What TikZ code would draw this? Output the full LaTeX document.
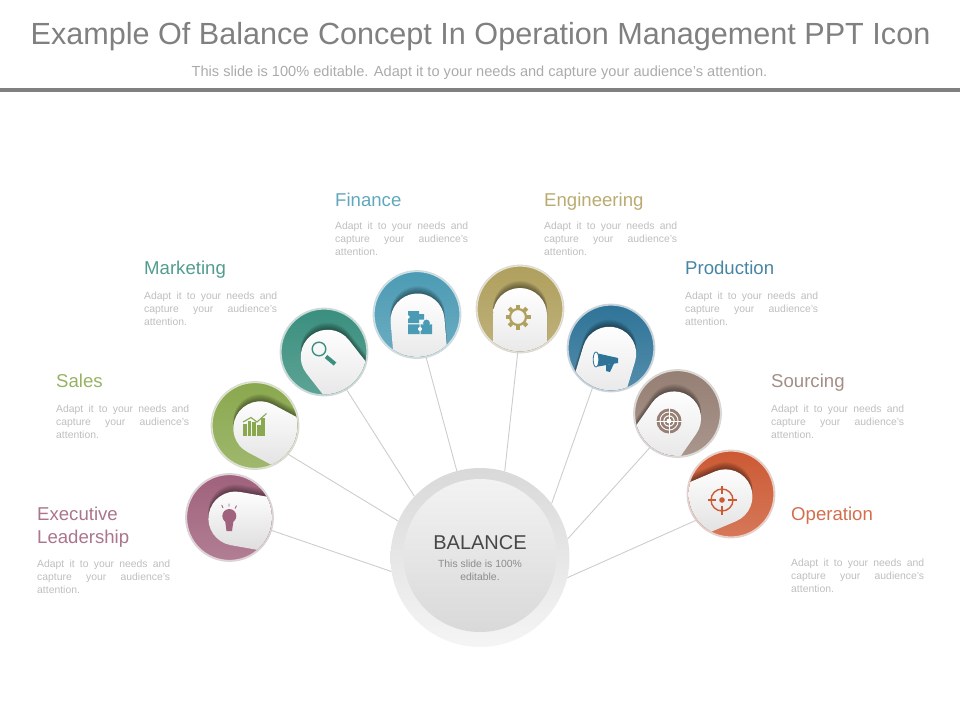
\documentclass[tikz,border=0pt]{standalone}
\usepackage{fontspec}
\setmainfont{Liberation Sans}
\usetikzlibrary{positioning}
\definecolor{execmauve}{RGB}{160,98,124}
\definecolor{salesgreen}{RGB}{138,168,78}
\definecolor{marketteal}{RGB}{58,143,126}
\definecolor{financeblue}{RGB}{76,155,180}
\definecolor{engolive}{RGB}{176,160,94}
\definecolor{prodblue}{RGB}{47,116,152}
\definecolor{sourcetaupe}{RGB}{150,127,116}
\definecolor{operust}{RGB}{204,90,52}
\definecolor{titlegray}{RGB}{128,128,128}
\definecolor{bodygray}{RGB}{190,190,190}
\definecolor{linkgray}{RGB}{205,205,205}

\begin{document}
\begin{tikzpicture}[
        x=1pt, y=-1pt,
        petal/.style={circle, minimum size=86pt, inner sep=0pt, draw=#1!30!white, line width=1.2pt,
            top color=#1, bottom color=#1!82!white,
            preaction={draw=black!16, line width=2.8pt}},
        link/.style={draw=linkgray, line width=0.9pt},
        heading/.style={inner sep=0pt, anchor=base west, align=left, text=#1!88!white, font=\fontsize{18.6}{23}\selectfont},
        blurb/.style={inner sep=0pt, text=bodygray, text width=133pt, align=justify, font=\fontsize{10.4}{13}\selectfont,
            execute at begin node={\tolerance=10000 \hbadness=10000 }},
        iconline/.style={line width=1.4pt}
    ]
        \useasboundingbox (0,0) rectangle (960,720);

        % title
        \node[text=titlegray, font=\fontsize{30.6}{36}\selectfont, inner sep=0pt] (title) at (480.5,37) {Example Of Balance Concept In Operation Management PPT Icon};
        \node[text=bodygray!90!black, font=\fontsize{14.6}{16}\selectfont, inner sep=0pt] (subtitle) at (479.5,73) {This slide is 100\% editable. Adapt it to your needs and capture your audience's attention.};
        \fill[black!50] (0,88) rectangle (960,91.5);

        % hub
        \node[circle, minimum size=179pt, inner sep=0pt, top color=black!15, bottom color=black!4] (hubring) at (480,557.5) {};
        \node[circle, minimum size=153pt, inner sep=0pt, top color=black!5, bottom color=black!15] (hub) at (480,555.5) {};
        \node[font=\fontsize{20}{22}\selectfont, text=black!72, inner sep=0pt] (hubtitle) at (480,542.5) {BALANCE};
        \node[font=\fontsize{10.4}{13}\selectfont, text=black!45, align=center, inner sep=0pt, below=10pt of hubtitle] (hubtext) {This slide is 100\%\\editable.};

        % discs
        \node[petal=execmauve] (exec) at (229.5,517.5) {};
        \node[petal=salesgreen] (sales) at (255,425.5) {};
        \node[petal=marketteal] (market) at (324,352) {};
        \node[petal=financeblue] (finance) at (417,314.5) {};
        \node[petal=engolive] (engineer) at (520,309) {};
        \node[petal=prodblue] (produce) at (611,348) {};
        \node[petal=sourcetaupe] (source) at (677.5,413.5) {};
        \node[petal=operust] (operate) at (731,494) {};

        % white fingers
        \foreach \nm/\ang in {exec/-10, sales/-28, market/-52, finance/-85, engineer/-90, produce/-107, source/-125, operate/-157} {
            \begin{scope}
                \clip (\nm.center) circle (42.4);
                \begin{scope}[shift={(\nm.center)}]
                    \foreach \g in {1,...,8} {
                        \fill[black, opacity=0.06, shift={(0,-0.9*\g)}, rotate=\ang] (90,-27) -- (6,-27) .. controls (-8.9,-27) and (-21,-14.9) .. (-21,0) .. controls (-21,14.9) and (-8.9,27) .. (6,27) -- (90,27) -- cycle;
                    }
                    \shade[top color=white, bottom color=black!15, rotate=\ang] (90,-27) -- (6,-27) .. controls (-8.9,-27) and (-21,-14.9) .. (-21,0) .. controls (-21,14.9) and (-8.9,27) .. (6,27) -- (90,27) -- cycle;
                \end{scope}
            \end{scope}
        }

        % connectors
        \draw[link] (exec.-17) -- (hubring.189);
        \draw[link] (sales.-41) -- (hubring.156);
        \draw[link] (market.-59) -- (hubring.137);
        \draw[link] (finance.-78) -- (hubring.105);
        \draw[link] (engineer.-93) -- (hubring.74);
        \draw[link] (produce.-115) -- (hubring.37);
        \draw[link] (source.-129) -- (hubring.12);
        \draw[link] (operate.-143) -- (hubring.-13);

        % labels
        \node[heading=execmauve, anchor=west] (exechead) at (37,527) {Executive\\Leadership};
        \node[blurb, below=12pt of exechead.south west, anchor=north west] (execblurb) {Adapt it to your needs and\linebreak capture your audience's\linebreak attention.};
        \node[heading=salesgreen] (saleshead) at (56,387.7) {Sales};
        \node[blurb, below=17.3pt of saleshead.base west, anchor=north west] (salesblurb) {Adapt it to your needs and\linebreak capture your audience's\linebreak attention.};
        \node[heading=marketteal] (markethead) at (144,274.7) {Marketing};
        \node[blurb, below=17.3pt of markethead.base west, anchor=north west] (marketblurb) {Adapt it to your needs and\linebreak capture your audience's\linebreak attention.};
        \node[heading=financeblue] (financehead) at (335,206.7) {Finance};
        \node[blurb, below=15.3pt of financehead.base west, anchor=north west] (financeblurb) {Adapt it to your needs and\linebreak capture your audience's\linebreak attention.};
        \node[heading=engolive] (engineerhead) at (544,206.7) {Engineering};
        \node[blurb, below=15.3pt of engineerhead.base west, anchor=north west] (engineerblurb) {Adapt it to your needs and\linebreak capture your audience's\linebreak attention.};
        \node[heading=prodblue] (producehead) at (685,274.7) {Production};
        \node[blurb, below=17.3pt of producehead.base west, anchor=north west] (produceblurb) {Adapt it to your needs and\linebreak capture your audience's\linebreak attention.};
        \node[heading=sourcetaupe] (sourcehead) at (771,387.7) {Sourcing};
        \node[blurb, below=17.3pt of sourcehead.base west, anchor=north west] (sourceblurb) {Adapt it to your needs and\linebreak capture your audience's\linebreak attention.};
        \node[heading=operust] (operatehead) at (791,520.7) {Operation};
        \node[blurb, below=38.3pt of operatehead.base west, anchor=north west] (operateblurb) {Adapt it to your needs and\linebreak capture your audience's\linebreak attention.};

        % bulb
        \fill[execmauve] (229.3,516) circle (7);
        \fill[execmauve] (225,520) -- (233.6,520) -- (232,531) -- (226.5,531) -- cycle;
        \draw[execmauve, line width=0.9pt] (221.7,505) -- (223,508) (229,503.5) -- (229,506.5) (236.5,505.5) -- (235,508.5);

        % bars
        \foreach \xa/\ya in {243/424, 247.6/421, 252.2/422, 256.8/425, 261.4/418} {
            \fill[salesgreen] (\xa,\ya) rectangle (\xa+3.8,436);
        }
        \draw[salesgreen, line width=1.1pt] (243,422) -- (251,417.5) -- (257,422) -- (266.5,413.5);

        % magnifier
        \draw[marketteal, iconline] (319,349) circle (6.8);
        \draw[marketteal, line width=4pt] (326,356.5) -- (335,364);

        % puzzle
        \fill[financeblue] (408,311) rectangle (419,323.2) (418,314) rectangle (424,319.5);
        \fill[financeblue] (408,324.4) rectangle (419.5,334) (420.6,324.4) rectangle (432,334);
        \fill[financeblue] (426.5,323) circle (3.4);
        \fill[white] (408,317) circle (1.8) (420,329) circle (2);

        % gear
        \draw[engolive, line width=2.2pt] (518,317) circle (8);
        \foreach \ang in {0,45,...,315} {
            \fill[engolive, shift={(518,317)}, rotate=\ang] (9,-2) rectangle (12.5,2);
        }

        % megaphone
        \fill[prodblue] (598,353.5) -- (618,358) -- (618,363) -- (598,366.5) -- cycle;
        \fill[prodblue] (606,365) -- (614,363.5) -- (610,372) -- (606,371) -- cycle;
        \draw[prodblue, fill=white, line width=0.8pt] (596,359.5) ellipse (2.8 and 7.5);

        % target
        \foreach \rad/\col in {12.5/sourcetaupe, 9.5/white, 8.5/sourcetaupe, 5.7/white, 4.7/sourcetaupe, 2.4/white} {
            \fill[\col] (669,421) circle (\rad);
        }
        \draw[white, line width=0.5pt] (656,421) -- (682,421) (669,408) -- (669,434);

        % crosshair
        \draw[operust, iconline] (722,500) circle (11);
        \draw[operust, iconline] (722,485.5) -- (722,494) (722,506) -- (722,514.5) (707.5,500) -- (716,500) (728,500) -- (736.5,500);
        \fill[operust] (722,500) circle (2.8);
    \end{tikzpicture}
\end{document}
